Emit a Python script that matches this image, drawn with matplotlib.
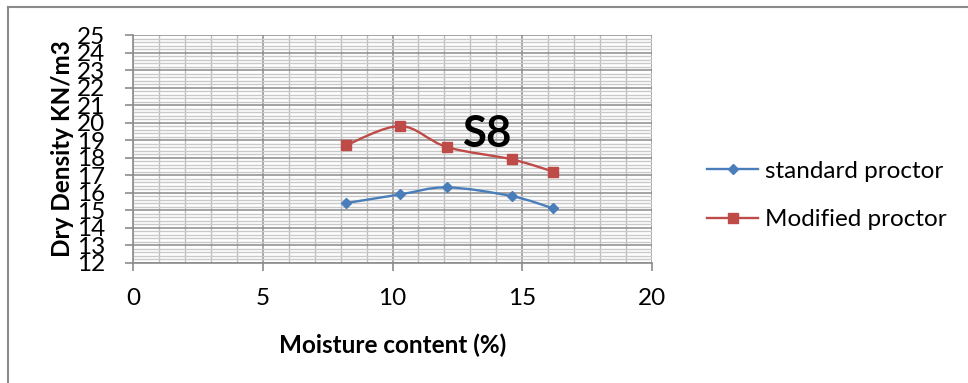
import matplotlib
matplotlib.use("Agg")
import matplotlib.pyplot as plt
from matplotlib.path import Path
from matplotlib.patches import PathPatch
from matplotlib.lines import Line2D
from matplotlib.ticker import MultipleLocator
import numpy as np

# Compaction test results, sample S8
moisture_std = [8.2, 10.3, 12.1, 14.6, 16.2]
density_std = [15.4, 15.9, 16.3, 15.8, 15.1]
moisture_mod = [8.2, 10.3, 12.1, 14.6, 16.2]
density_mod = [18.7, 19.8, 18.6, 17.9, 17.2]
x_ticks = [0, 5, 10, 15, 20]
y_ticks = list(range(12, 26))

FONT = "Lato"
plt.rcParams["font.family"] = [FONT, "DejaVu Sans"]

fig = plt.figure(figsize=(9.68, 3.83), dpi=100)
ax = fig.add_axes([0.1377, 0.3141, 0.5356, 0.5945])


def smooth_path(xs, ys):
    """Catmull-Rom style cubic Bezier through the points (spreadsheet 'smoothed line')."""
    pts = np.column_stack([xs, ys]).astype(float)
    n = len(pts)
    verts = [pts[0]]
    codes = [Path.MOVETO]
    for i in range(n - 1):
        p0 = pts[i - 1] if i > 0 else pts[i]
        p1 = pts[i]
        p2 = pts[i + 1]
        p3 = pts[i + 2] if i + 2 < n else pts[i + 1]
        c1 = p1 + (p2 - p0) / 6.0
        c2 = p2 - (p3 - p1) / 6.0
        verts += [c1, c2, p2]
        codes += [Path.CURVE4] * 3
    return Path(verts, codes)


blue = "#4A7EBB"
red = "#BE4B48"

for xs, ys, col, mk, ms in [
    (moisture_std, density_std, blue, "D", 5.5),
    (moisture_mod, density_mod, red, "s", 7),
]:
    ax.add_patch(PathPatch(smooth_path(xs, ys), fill=False, edgecolor=col,
                           linewidth=1.7, zorder=3))
    ax.plot(xs, ys, linestyle="none", marker=mk, markersize=ms, color=col,
            markeredgecolor=col, zorder=4)

ax.set_xlim(0, 20)
ax.set_ylim(12, 25)
ax.set_xticks(x_ticks)
ax.set_yticks(y_ticks)
ax.xaxis.set_minor_locator(MultipleLocator(1))
ax.yaxis.set_minor_locator(MultipleLocator(0.2))

ax.grid(which="minor", axis="y", color="#c9c9c9", linewidth=1.0, zorder=0)
ax.grid(which="minor", axis="x", color="#bdbdbd", linewidth=1.0, zorder=0)
ax.grid(which="major", axis="y", color="#8c8c8c", linewidth=1.1, zorder=1)
ax.grid(which="major", axis="x", color="#8c8c8c", linewidth=1.1, zorder=1)
ax.set_axisbelow(True)

for side in ["top", "right"]:
    ax.spines[side].set_visible(False)
for side in ["left", "bottom"]:
    ax.spines[side].set_color("#8c8c8c")
    ax.spines[side].set_linewidth(1.2)

ax.tick_params(which="major", direction="out", length=6, width=1.2,
               color="#8c8c8c", labelsize=17.5)
ax.tick_params(axis="y", which="major", pad=14)
ax.tick_params(axis="x", which="major", pad=12)
ax.tick_params(which="minor", length=0)
for lbl in ax.get_xticklabels() + ax.get_yticklabels():
    lbl.set_fontfamily([FONT, "DejaVu Sans"])

ax.set_xlabel("Moisture content (%)", fontsize=17.5, fontweight="bold", labelpad=18)
ax.set_ylabel("Dry Density KN/m3", fontsize=17.5, fontweight="bold", labelpad=2)

ax.text(14.6, 18.6, "S8", fontsize=31.5, fontweight="bold", ha="right",
        va="baseline", zorder=5)

handles = [
    Line2D([], [], color=blue, marker="D", markersize=5.5, linewidth=1.7),
    Line2D([], [], color=red, marker="s", markersize=7, linewidth=1.7),
]
fig.legend(handles, ["standard proctor", "Modified proctor"],
           loc="center left", bbox_to_anchor=(0.7304, 0.4896), frameon=False,
           fontsize=17.5, handlelength=2.1, handletextpad=0.3,
           labelspacing=1.15, borderpad=0, borderaxespad=0)

# chart frame
fig.add_artist(Line2D([7.5 / 968, 7.5 / 968], [0, 1 - 6.5 / 383],
                      transform=fig.transFigure, color="#8a8a8a", linewidth=1.5))
fig.add_artist(Line2D([7.5 / 968, 1], [1 - 6.5 / 383, 1 - 6.5 / 383],
                      transform=fig.transFigure, color="#8a8a8a", linewidth=1.5))

fig.savefig("out.png", dpi=100)
